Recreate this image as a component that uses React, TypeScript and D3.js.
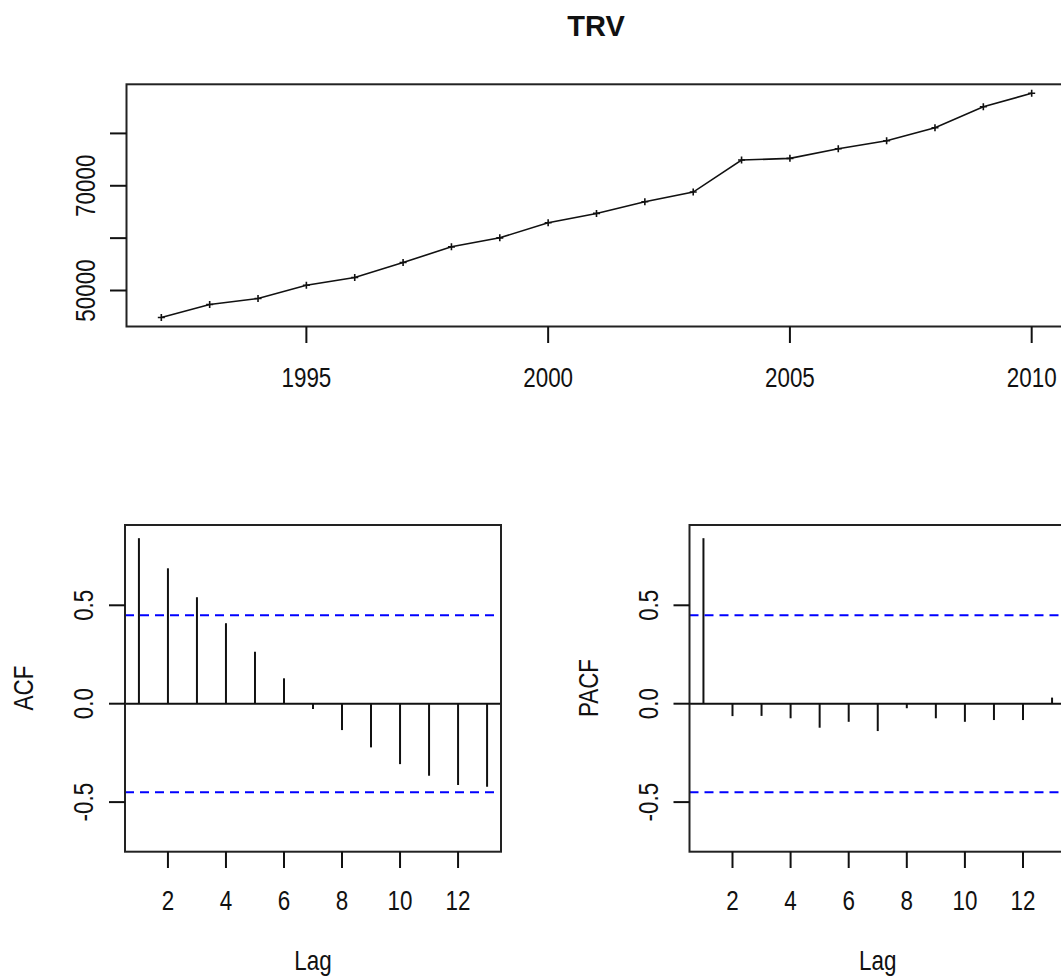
import React, { useEffect, useRef } from "react";
import * as d3 from "d3";

// TRV series, yearly
const years = [1992, 1993, 1994, 1995, 1996, 1997, 1998, 1999, 2000, 2001, 2002, 2003, 2004, 2005, 2006, 2007, 2008, 2009, 2010];
const trv = [44840, 47320, 48470, 51010, 52490, 55350, 58340, 60060, 62930, 64720, 66940, 68800, 74910, 75240, 77080, 78600, 81090, 85100, 87670];

// correlograms, lags 1..13
const lags = [1, 2, 3, 4, 5, 6, 7, 8, 9, 10, 11, 12, 13];
const acfVals = [0.841, 0.688, 0.541, 0.409, 0.264, 0.129, -0.027, -0.134, -0.222, -0.307, -0.366, -0.413, -0.422];
const pacfVals = [0.841, -0.063, -0.062, -0.074, -0.122, -0.092, -0.139, -0.023, -0.074, -0.092, -0.083, -0.083, 0.031];
const clim = 1.96 / Math.sqrt(years.length);

const yearTicks = [1995, 2000, 2005, 2010];
const trvTicks = [50000, 60000, 70000, 80000];
const trvLabels = [50000, 70000];
const lagTicks = [2, 4, 6, 8, 10, 12];
const corrTicks = [-0.5, 0, 0.5];

const FONT = "'Liberation Sans', Arial, sans-serif";
const FS = 27;
const NARROW = "scale(0.83,1)"; // the R device font is a condensed Arial
const INK = "#111";
const W = 1061;
const H = 979;

const App = () => {
  const svgRef = useRef(null);

  useEffect(() => {
    const svg = d3.select(svgRef.current);
    svg.selectAll("*").remove();

    const label = (g, x, y, txt, rot = false) =>
      g
        .append("text")
        .attr("transform", `translate(${x},${y})${rot ? " rotate(-90)" : ""} ${NARROW}`)
        .attr("text-anchor", "middle")
        .attr("font-family", FONT)
        .attr("font-size", FS)
        .attr("fill", INK)
        .text(txt);

    // title
    svg
      .append("text")
      .attr("x", 596)
      .attr("y", 36)
      .attr("text-anchor", "middle")
      .attr("font-family", FONT)
      .attr("font-size", 29)
      .attr("font-weight", "bold")
      .attr("fill", INK)
      .text("TRV");

    // ---- top: the series ----
    const xTop = d3.scaleLinear().domain([1991.28, 2010.72]).range([126.5, 1066.5]);
    const yTop = d3.scaleLinear().domain([43125, 89380]).range([326.5, 84.3]);
    const top = svg.append("g");

    const line = d3
      .line()
      .x((d, i) => xTop(years[i]))
      .y((d) => yTop(d));
    top
      .append("path")
      .datum(trv)
      .attr("d", line)
      .attr("fill", "none")
      .attr("stroke", INK)
      .attr("stroke-width", 1.6);

    // "+" markers
    top
      .selectAll(".pt")
      .data(trv)
      .join("path")
      .attr("class", "pt")
      .attr("d", (d, i) => {
        const x = xTop(years[i]);
        const y = yTop(d);
        return `M${x - 3.5},${y}H${x + 3.5}M${x},${y - 3.5}V${y + 3.5}`;
      })
      .attr("stroke", INK)
      .attr("stroke-width", 1.6);

    drawBox(top, 126.5, 84.3, 1066.5, 326.5);

    top
      .selectAll(".xt")
      .data(yearTicks)
      .join("line")
      .attr("x1", (d) => xTop(d))
      .attr("x2", (d) => xTop(d))
      .attr("y1", 326.5)
      .attr("y2", 343)
      .attr("stroke", INK)
      .attr("stroke-width", 2);
    yearTicks.forEach((d) => label(top, xTop(d), 386.5, d));

    top
      .selectAll(".yt")
      .data(trvTicks)
      .join("line")
      .attr("x1", 110)
      .attr("x2", 126.5)
      .attr("y1", (d) => yTop(d))
      .attr("y2", (d) => yTop(d))
      .attr("stroke", INK)
      .attr("stroke-width", 2);
    trvLabels.forEach((d) => label(top, 95, yTop(d), d, true));

    // ---- bottom: ACF and PACF ----
    const yCorr = d3.scaleLinear().domain([-0.752, 0.908]).range([851.7, 525]);

    const corrPanel = (left, right, vals, name) => {
      const x = d3.scaleLinear().domain([0.52, 13.48]).range([left, right]);
      const g = svg.append("g");

      g.append("line")
        .attr("x1", left)
        .attr("x2", right)
        .attr("y1", yCorr(0))
        .attr("y2", yCorr(0))
        .attr("stroke", INK)
        .attr("stroke-width", 2);

      g.selectAll(".bar")
        .data(vals)
        .join("line")
        .attr("class", "bar")
        .attr("x1", (d, i) => x(lags[i]))
        .attr("x2", (d, i) => x(lags[i]))
        .attr("y1", yCorr(0))
        .attr("y2", (d) => yCorr(d))
        .attr("stroke", INK)
        .attr("stroke-width", 2);

      g.selectAll(".ci")
        .data([clim, -clim])
        .join("line")
        .attr("class", "ci")
        .attr("x1", left)
        .attr("x2", right)
        .attr("y1", (d) => yCorr(d))
        .attr("y2", (d) => yCorr(d))
        .attr("stroke", "#0000ff")
        .attr("stroke-width", 2)
        .attr("stroke-dasharray", "9,6");

      drawBox(g, left, 525, right, 851.7);

      g.selectAll(".xt")
        .data(lagTicks)
        .join("line")
        .attr("x1", (d) => x(d))
        .attr("x2", (d) => x(d))
        .attr("y1", 851.7)
        .attr("y2", 868)
        .attr("stroke", INK)
        .attr("stroke-width", 2);
      lagTicks.forEach((d) => label(g, x(d), 910, d));

      g.selectAll(".yt")
        .data(corrTicks)
        .join("line")
        .attr("x1", left - 16)
        .attr("x2", left)
        .attr("y1", (d) => yCorr(d))
        .attr("y2", (d) => yCorr(d))
        .attr("stroke", INK)
        .attr("stroke-width", 2);
      corrTicks.forEach((d) =>
        label(g, left - 32, yCorr(d), (d < 0 ? "-" : "") + Math.abs(d).toFixed(1), true)
      );

      label(g, (left + right) / 2, 970, "Lag");
      label(g, left - 92, 688, name, true);
    };

    corrPanel(125, 501, acfVals, "ACF");
    corrPanel(689.5, 1066, pacfVals, "PACF");
  }, []);

  return (
    <svg
      ref={svgRef}
      width={W}
      height={H}
      style={{ position: "absolute", left: 0, top: 0, background: "#fff" }}
    />
  );
};

function drawBox(g, x0, y0, x1, y1) {
  g.append("rect")
    .attr("x", x0)
    .attr("y", y0)
    .attr("width", x1 - x0)
    .attr("height", y1 - y0)
    .attr("fill", "none")
    .attr("stroke", "#222")
    .attr("stroke-width", 2);
}

export default App;
